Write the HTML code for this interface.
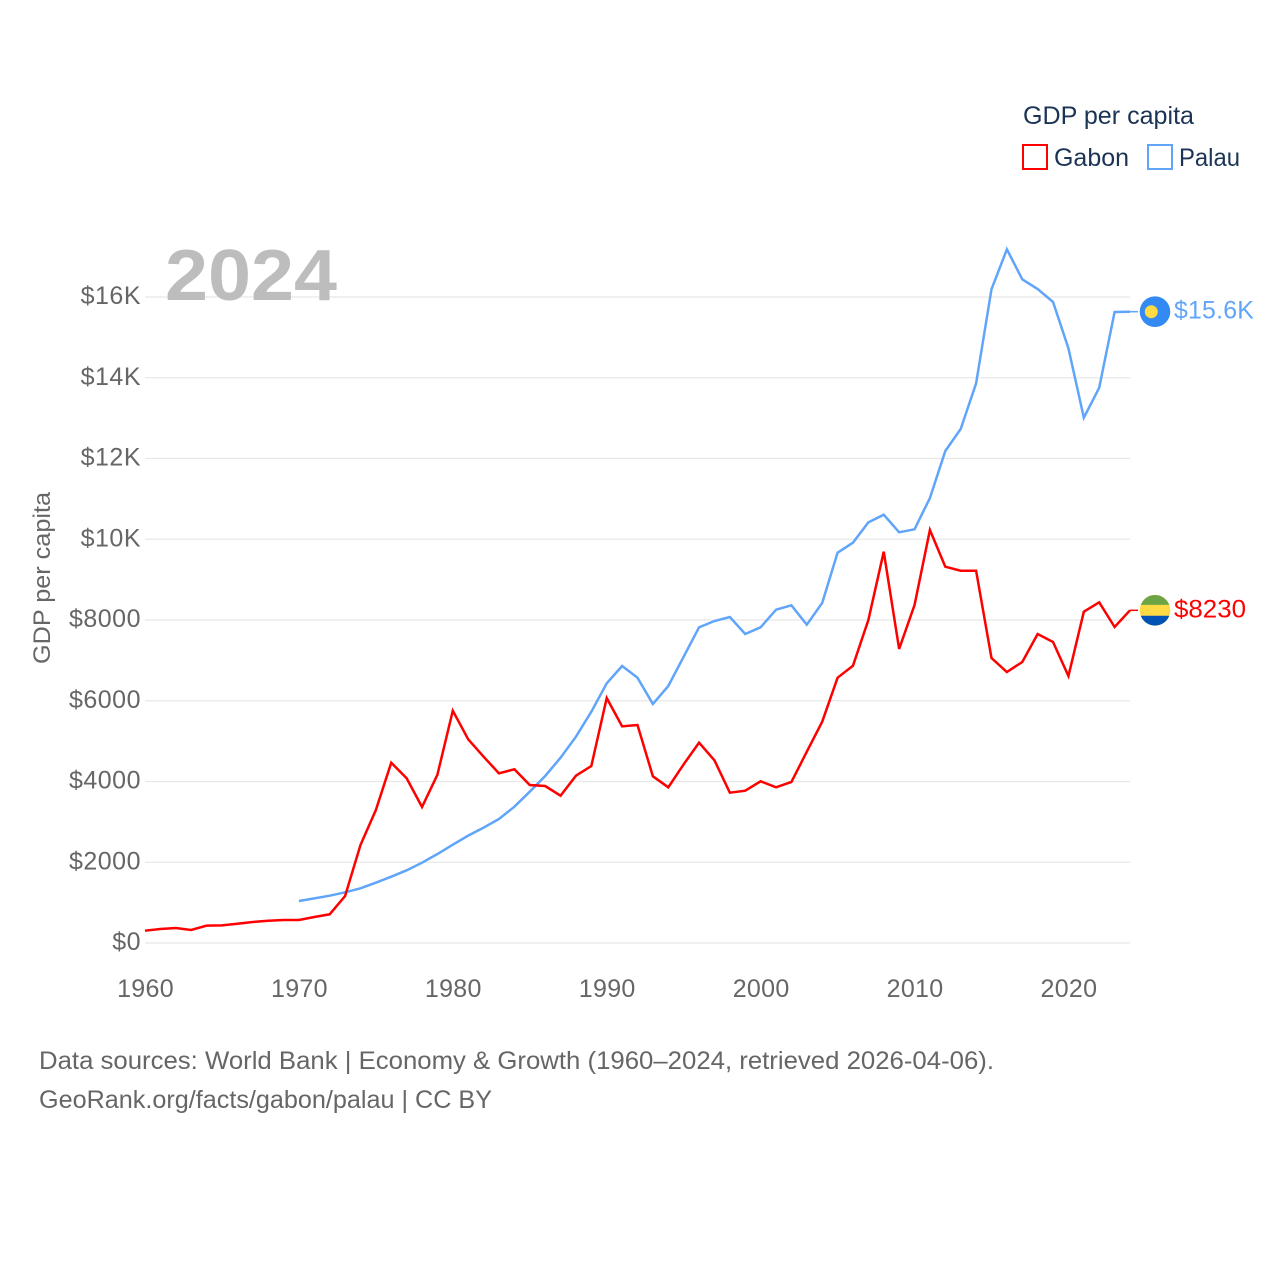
<!DOCTYPE html>
<html lang="en">
<head>
<meta charset="utf-8">
<title>GDP per capita: Gabon and Palau</title>
<style>
  html, body { margin: 0; padding: 0; background: #fff; }
  body { width: 1280px; height: 1280px; overflow: hidden; }
  svg { display: block; font-family: "Liberation Sans", sans-serif; }
</style>
</head>
<body>
<svg id="chart" xmlns="http://www.w3.org/2000/svg" width="1280" height="1280" viewBox="0 0 1280 1280">
  <rect x="0" y="0" width="1280" height="1280" fill="#ffffff"/>
  <g id="grid"></g>
  <g id="y-ticks"></g>
  <g id="x-ticks"></g>
  <text x="165" y="300" font-size="72" font-weight="bold" fill="#bdbdbd" textLength="172" lengthAdjust="spacingAndGlyphs">2024</text>
  <text transform="translate(50,664) rotate(-90)" font-size="24" fill="#666666" textLength="172" lengthAdjust="spacingAndGlyphs">GDP per capita</text>
  <g id="series"></g>
  <g id="end-markers"></g>
  <g>
    <text x="1023" y="124" font-size="25" fill="#1b3355" textLength="171" lengthAdjust="spacingAndGlyphs">GDP per capita</text>
    <g>
      <rect x="1023" y="145" width="24" height="24" fill="none" stroke="#ff0000" stroke-width="2"/>
      <text x="1054" y="166" font-size="25" fill="#1b3355" textLength="75" lengthAdjust="spacingAndGlyphs">Gabon</text>
    </g>
    <g>
      <rect x="1148" y="145" width="24" height="24" fill="none" stroke="#60a5fa" stroke-width="2"/>
      <text x="1179" y="166" font-size="25" fill="#1b3355" textLength="61" lengthAdjust="spacingAndGlyphs">Palau</text>
    </g>
  </g>
  <text x="39" y="1069" font-size="25" fill="#666666" textLength="955" lengthAdjust="spacingAndGlyphs">Data sources: World Bank | Economy &amp; Growth (1960–2024, retrieved 2026-04-06).</text>
  <text x="39" y="1108" font-size="25" fill="#666666" textLength="453" lengthAdjust="spacingAndGlyphs">GeoRank.org/facts/gabon/palau | CC BY</text>
</svg>
<script>
const gabonStartYear = 1960;
const palauStartYear = 1970;
const gabonValues = [305,347,372,322,430,438,478,520,550,570,570,644,711,1164,2427,3294,4466,4079,3368,4169,5754,5045,4614,4203,4302,3913,3888,3648,4144,4384,6068,5367,5399,4128,3856,4426,4961,4525,3723,3772,4005,3856,3988,4738,5481,6571,6868,8000,9692,7282,8372,10229,9320,9221,9221,7059,6712,6960,7653,7455,6613,8206,8438,7827,8240];
const palauValues = [1040,1105,1172,1255,1354,1494,1643,1800,1989,2204,2436,2659,2857,3071,3376,3748,4136,4589,5110,5729,6432,6861,6571,5920,6365,7091,7819,7975,8074,7653,7819,8255,8364,7884,8421,9667,9915,10419,10608,10172,10246,11022,12186,12731,13860,16190,17181,16438,16198,15876,14729,13011,13754,15628,15636];
const yTickValues = [0,2000,4000,6000,8000,10000,12000,14000,16000];
const yTickLabels = ["$0","$2000","$4000","$6000","$8000","$10K","$12K","$14K","$16K"];
const xTickValues = [1960,1970,1980,1990,2000,2010,2020];
const xTickLabels = ["1960","1970","1980","1990","2000","2010","2020"];
const gabonEndLabel = "$8230";
const palauEndLabel = "$15.6K";

const NS = "http://www.w3.org/2000/svg";
const xScale = function (year) { return 145 + (year - 1960) * (985 / 64); };
const yScale = function (value) { return 943 - value * (646 / 16000); };

function make(tag, attrs, parent) {
  const el = document.createElementNS(NS, tag);
  for (const k in attrs) el.setAttribute(k, attrs[k]);
  parent.appendChild(el);
  return el;
}

const gridGroup = document.getElementById("grid");
const yGroup = document.getElementById("y-ticks");
yTickValues.forEach(function (v, i) {
  const y = yScale(v);
  const line = make("line", { x1: 145, x2: 1130, y1: y, y2: y, stroke: "#e8e8e8", "stroke-width": 1.2 }, gridGroup);
  
  
  const label = make("text", { x: 141, y: y + 7, "text-anchor": "end", "font-size": 25, "letter-spacing": 0.5, fill: "#666666" }, yGroup);
  
  
  label.textContent = yTickLabels[i];
});

const xGroup = document.getElementById("x-ticks");
xTickValues.forEach(function (v, i) {
  const label = make("text", { x: xScale(v) + 0.5, y: 997, "text-anchor": "middle", "font-size": 25, "letter-spacing": 0.3, fill: "#666666" }, xGroup);
  
  
  label.textContent = xTickLabels[i];
});

function pointsFor(values, startYear) {
  return values.map(function (v, i) {
    return xScale(startYear + i).toFixed(2) + "," + yScale(v).toFixed(2);
  }).join(" ");
}

const seriesGroup = document.getElementById("series");
const palauLine = make("polyline", { points: pointsFor(palauValues, palauStartYear), fill: "none", stroke: "#60a5fa", "stroke-width": 2.5, "stroke-linejoin": "miter" }, seriesGroup);


const gabonLine = make("polyline", { points: pointsFor(gabonValues, gabonStartYear), fill: "none", stroke: "#ff0000", "stroke-width": 2.5, "stroke-linejoin": "miter" }, seriesGroup);



const endGroup = document.getElementById("end-markers");
const palauY = yScale(palauValues[palauValues.length - 1]);
const gabonY = yScale(gabonValues[gabonValues.length - 1]);

const palauLeader = make("line", { x1: 1130, x2: 1138, y1: palauY, y2: palauY, stroke: "#60a5fa", "stroke-width": 1.5 }, endGroup);


const palauFlag = make("g", { transform: "translate(1155," + palauY + ")" }, endGroup);


make("circle", { cx: 0, cy: 0, r: 15.3, fill: "#338af3" }, palauFlag);
make("circle", { cx: -3.7, cy: 0, r: 6.5, fill: "#ffda44" }, palauFlag);
const palauText = make("text", { x: 1174, y: palauY + 7, "font-size": 25, "letter-spacing": 0.2, fill: "#60a5fa", textLength: 80, lengthAdjust: "spacingAndGlyphs" }, endGroup);


palauText.textContent = palauEndLabel;

const gabonLeader = make("line", { x1: 1130, x2: 1138, y1: gabonY, y2: gabonY, stroke: "#ff0000", "stroke-width": 1.5 }, endGroup);


const gabonFlag = make("g", { transform: "translate(1155," + gabonY + ")" }, endGroup);


make("circle", { cx: 0, cy: 0, r: 15.3, fill: "#ffda44" }, gabonFlag);
make("path", { d: "M-14.3,-5.4 A15.3,15.3 0 0 1 14.3,-5.4 Z", fill: "#6da544" }, gabonFlag);
make("path", { d: "M-14.3,5.4 A15.3,15.3 0 0 0 14.3,5.4 Z", fill: "#0052b4" }, gabonFlag);
const gabonText = make("text", { x: 1174, y: gabonY + 7, "font-size": 25, fill: "#ff0000", textLength: 72, lengthAdjust: "spacingAndGlyphs" }, endGroup);


gabonText.textContent = gabonEndLabel;
</script>
</body>
</html>
